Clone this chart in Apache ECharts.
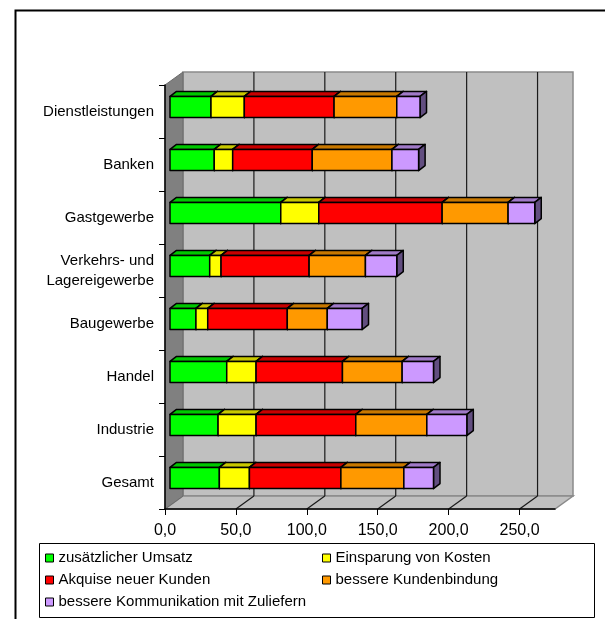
<!DOCTYPE html>
<html>
<head>
<meta charset="utf-8">
<script src="https://cdn.jsdelivr.net/npm/echarts@6/dist/echarts.min.js"></script>
<style>
  html, body { margin: 0; padding: 0; background: #fff; }
  #chart { width: 605px; height: 619px; }
</style>
</head>
<body>
<div id="chart"></div>
<script>
// Categories (top to bottom) and the five stacked components per branch
const CATEGORIES = ['Dienstleistungen', 'Banken', 'Gastgewerbe', 'Verkehrs- und\nLagereigewerbe',
  'Baugewerbe', 'Handel', 'Industrie', 'Gesamt'];
const SERIES_NAMES = ['zusätzlicher Umsatz', 'Einsparung von Kosten', 'Akquise neuer Kunden',
  'bessere Kundenbindung', 'bessere Kommunikation mit Zuliefern'];
const UMSATZ        = [28.9, 31.2, 78.1, 28.0, 18.3, 40.0, 33.9, 34.8];
const KOSTEN        = [23.5, 13.0, 26.8,  8.0,  8.3, 20.7, 26.8, 21.2];
const AKQUISE       = [63.3, 56.1, 87.0, 62.1, 56.1, 60.9, 70.3, 64.5];
const BINDUNG       = [44.2, 56.2, 46.5, 39.7, 28.2, 42.1, 50.1, 44.4];
const KOMMUNIKATION = [16.4, 18.8, 18.8, 22.1, 24.5, 22.1, 28.2, 20.9];
const TICK_VALUES = [0, 50, 100, 150, 200, 250];
const AXIS_MAX = 275;

const SERIES_VALUES = [UMSATZ, KOSTEN, AKQUISE, BINDUNG, KOMMUNIKATION];

// Face colours of the 3D boxes
const FRONT = ['#00ff00', '#ffff00', '#ff0000', '#ff9900', '#cc99ff'];
const TOP   = ['#00c800', '#c8c800', '#c80000', '#c87800', '#a07ac8'];
const SIDE  = ['#007000', '#707000', '#700000', '#704400', '#624e80'];

// Oblique projection: depth of the plot box and of the bars
const DEPTH_X = 18, DEPTH_Y = -13;
const BAR_OX = 5, BAR_OY = -4.5;
const BAR_DX = 6.5, BAR_DY = -5;

function fmt(v) { return v.toFixed(1).replace('.', ','); }

// Walls, floor and gridlines of the 3D plot box
function renderFrame(params, api) {
  const cs = params.coordSys;
  const x = cs.x, y = cs.y, w = cs.width, h = cs.height;
  const children = [];
  children.push({
    type: 'rect',
    shape: { x: x + DEPTH_X, y: y + DEPTH_Y, width: w, height: h },
    style: { fill: '#c0c0c0', stroke: '#8a8a8a', lineWidth: 1.5 }
  });
  children.push({
    type: 'polygon',
    shape: { points: [[x, y + h], [x + w, y + h], [x + w + DEPTH_X, y + h + DEPTH_Y], [x + DEPTH_X, y + h + DEPTH_Y]] },
    style: { fill: '#c0c0c0', stroke: '#8a8a8a', lineWidth: 1.5 }
  });
  TICK_VALUES.forEach(function (v) {
    if (v === 0) return;
    const px = api.coord([v, 0])[0];
    children.push({
      type: 'line',
      shape: { x1: px + DEPTH_X, y1: y + DEPTH_Y, x2: px + DEPTH_X, y2: y + h + DEPTH_Y },
      style: { stroke: '#1a1a1a', lineWidth: 1.2 }
    });
    children.push({
      type: 'line',
      shape: { x1: px, y1: y + h, x2: px + DEPTH_X, y2: y + h + DEPTH_Y },
      style: { stroke: '#1a1a1a', lineWidth: 1.2 }
    });
  });
  children.push({
    type: 'polygon',
    shape: { points: [[x, y], [x + DEPTH_X, y + DEPTH_Y], [x + DEPTH_X, y + h + DEPTH_Y], [x, y + h]] },
    style: { fill: '#808080', stroke: '#6a6a6a', lineWidth: 1 }
  });
  return { type: 'group', children: children };
}

// One 3D box segment: front face, top face and right side face
function makeBarRenderer(k) {
  return function (params, api) {
    const s = api.value(0), e = api.value(1), c = api.value(2);
    const p0 = api.coord([s, c]);
    const p1 = api.coord([e, c]);
    const bh = api.size([0, 1])[1] * 0.4;
    const x0 = p0[0] + BAR_OX, x1 = p1[0] + BAR_OX;
    const yc = p0[1] + BAR_OY;
    const yt = yc - bh / 2, yb = yc + bh / 2;
    const stroke = { stroke: '#000', lineWidth: 1.5, lineJoin: 'round' };
    return {
      type: 'group',
      children: [
        { type: 'polygon',
          shape: { points: [[x0, yt], [x1, yt], [x1 + BAR_DX, yt + BAR_DY], [x0 + BAR_DX, yt + BAR_DY]] },
          style: Object.assign({ fill: TOP[k] }, stroke) },
        { type: 'polygon',
          shape: { points: [[x1, yt], [x1 + BAR_DX, yt + BAR_DY], [x1 + BAR_DX, yb + BAR_DY], [x1, yb]] },
          style: Object.assign({ fill: SIDE[k] }, stroke) },
        { type: 'rect',
          shape: { x: x0, y: yt, width: x1 - x0, height: yb - yt },
          style: Object.assign({ fill: FRONT[k] }, stroke) }
      ]
    };
  };
}

// Cumulative start/end per segment
const cumulative = CATEGORIES.map(function () { return 0; });
const barSeries = SERIES_VALUES.map(function (vals, k) {
  const data = vals.map(function (v, i) {
    const start = cumulative[i];
    cumulative[i] += v;
    return [start, cumulative[i], i];
  });
  return {
    type: 'custom',
    name: SERIES_NAMES[k],
    z: 3 + k,
    renderItem: makeBarRenderer(k),
    encode: { x: [0, 1], y: 2 },
    itemStyle: { color: FRONT[k] },
    data: data
  };
});

const FONT = 'Liberation Sans, Arial, sans-serif';

const option = {
  animation: false,
  color: FRONT,
  grid: { left: 165, top: 85, width: 390, height: 424, containLabel: false },
  xAxis: {
    type: 'value',
    min: 0, max: AXIS_MAX, interval: 50,
    z: 10,
    axisLine: { show: true, lineStyle: { color: '#000', width: 1.5 } },
    axisTick: { show: true, length: 6, lineStyle: { color: '#000' }, customValues: TICK_VALUES },
    axisLabel: {
      customValues: TICK_VALUES,
      margin: 14,
      fontSize: 16, fontFamily: FONT, color: '#000',
      formatter: function (v) { return v > 250 ? '' : fmt(v); }
    },
    splitLine: { show: false }
  },
  yAxis: {
    type: 'category',
    data: CATEGORIES,
    inverse: true,
    z: 10,
    axisLine: { show: true, lineStyle: { color: '#000', width: 1.5 } },
    axisTick: { show: true, length: 6, lineStyle: { color: '#000' } },
    axisLabel: { margin: 11, fontSize: 15, lineHeight: 20, fontFamily: FONT, color: '#000', align: 'right' },
    splitLine: { show: false }
  },
  legend: [
    {
      data: [SERIES_NAMES[0], SERIES_NAMES[2], SERIES_NAMES[4]],
      orient: 'vertical', left: 45, top: 547, padding: 0, itemGap: 0,
      icon: 'rect', itemWidth: 8, itemHeight: 8,
      itemStyle: { borderColor: '#000', borderWidth: 1 },
      selectedMode: false,
      textStyle: { fontSize: 15, fontFamily: FONT, color: '#000', lineHeight: 22, padding: [0, 0, 0, 0] }
    },
    {
      data: [SERIES_NAMES[1], SERIES_NAMES[3]],
      orient: 'vertical', left: 322, top: 547, padding: 0, itemGap: 0,
      icon: 'rect', itemWidth: 8, itemHeight: 8,
      itemStyle: { borderColor: '#000', borderWidth: 1 },
      selectedMode: false,
      textStyle: { fontSize: 15, fontFamily: FONT, color: '#000', lineHeight: 22, padding: [0, 0, 0, 0] }
    }
  ],
  graphic: [
    { type: 'rect', left: 13, top: 8, z: 0, silent: true,
      shape: { x: 0, y: 0, width: 620, height: 640 },
      style: { fill: 'none', stroke: '#000', lineWidth: 2 } },
    { type: 'rect', left: 39, top: 543, z: 0, silent: true,
      shape: { x: 0, y: 0, width: 555, height: 74 },
      style: { fill: '#fff', stroke: '#000', lineWidth: 1 } }
  ],
  series: [
    {
      type: 'custom',
      name: 'frame',
      z: 1,
      silent: true,
      renderItem: renderFrame,
      encode: { x: 0, y: 1 },
      data: [[0, 0]]
    }
  ].concat(barSeries)
};

const chart = echarts.init(document.getElementById('chart'), null, { renderer: 'canvas' });
chart.setOption(option);
</script>
</body>
</html>
